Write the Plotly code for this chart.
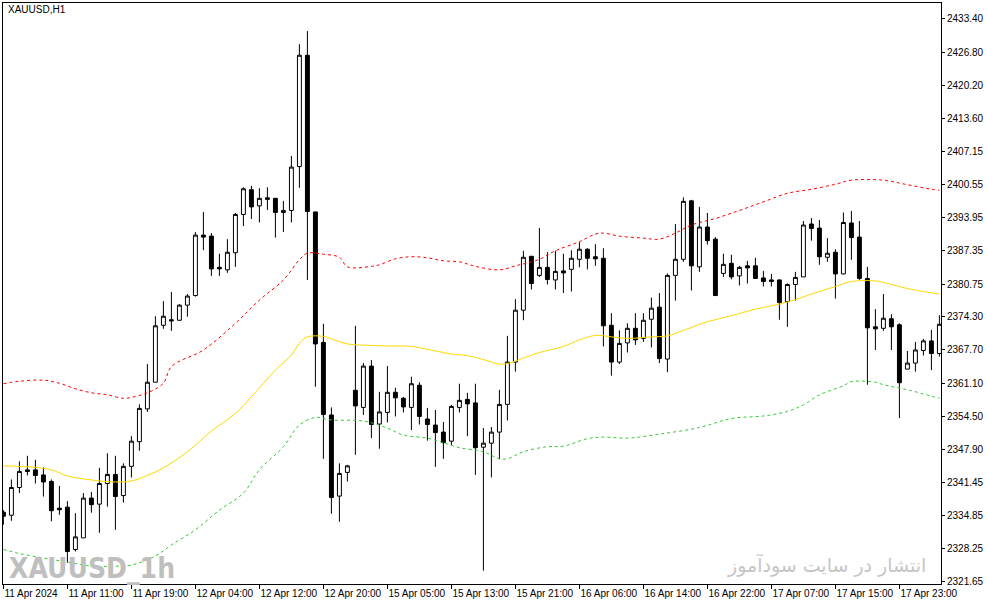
import plotly.graph_objects as go

# XAUUSD H1 candles (bar index 0..117)
opens = [
    2335.5, 2334.9, 2340.4, 2343.9, 2343.9, 2342.9, 2341.6, 2336.3, 2336.5, 2328.1,
    2330.4, 2338.3, 2337.1, 2341.2, 2343.0, 2338.8, 2344.6, 2349.5, 2356.0, 2361.3,
    2372.6, 2373.7, 2373.6, 2376.6, 2378.5, 2390.5, 2390.3, 2384.1, 2383.6, 2387.0,
    2394.6, 2399.5, 2396.3, 2397.9, 2397.8, 2395.0, 2395.4, 2404.1, 2426.2, 2395.1,
    2369.2, 2354.8, 2338.7, 2343.4, 2359.7, 2356.3, 2364.5, 2353.0, 2355.3, 2359.3,
    2358.1, 2356.3, 2360.7, 2354.0, 2352.8, 2351.4, 2349.6, 2356.3, 2357.9, 2357.2,
    2348.4, 2349.2, 2351.4, 2356.9, 2365.3, 2375.6, 2386.3, 2382.5, 2384.1, 2381.6,
    2383.4, 2383.7, 2385.7, 2387.7, 2386.2, 2385.9, 2372.6, 2365.3, 2369.1, 2372.0,
    2370.0, 2373.8, 2376.2, 2365.9, 2382.5, 2385.7, 2397.3, 2384.2, 2392.1, 2389.7,
    2382.9, 2384.9, 2382.4, 2384.4, 2384.4, 2382.0, 2381.6, 2381.6, 2377.3, 2380.7,
    2382.2, 2392.7, 2391.9, 2386.1, 2387.1, 2382.8, 2392.9, 2390.1, 2381.9, 2372.3,
    2372.0, 2373.9, 2372.7, 2363.9, 2365.1, 2367.6, 2369.5, 2367.0,
]
highs = [
    2335.9, 2342.0, 2345.6, 2346.7, 2345.9, 2344.4, 2342.0, 2340.7, 2337.7, 2335.3,
    2339.3, 2339.5, 2344.3, 2347.2, 2346.7, 2345.2, 2350.6, 2356.9, 2364.9, 2374.4,
    2377.4, 2379.2, 2376.8, 2378.8, 2391.1, 2395.1, 2390.9, 2386.8, 2389.7, 2394.9,
    2400.0, 2400.3, 2399.8, 2400.0, 2397.8, 2397.3, 2406.2, 2428.4, 2431.0, 2395.1,
    2372.9, 2356.3, 2345.2, 2344.9, 2372.5, 2365.1, 2365.7, 2359.4, 2364.5, 2360.2,
    2358.4, 2362.4, 2361.3, 2356.2, 2355.8, 2353.4, 2356.8, 2361.0, 2359.2, 2361.0,
    2352.2, 2352.4, 2359.8, 2370.5, 2377.8, 2387.4, 2386.3, 2391.9, 2387.1, 2387.4,
    2386.8, 2387.5, 2389.1, 2387.9, 2388.7, 2387.9, 2375.0, 2371.6, 2373.0, 2375.0,
    2375.0, 2378.1, 2379.0, 2382.9, 2392.7, 2398.0, 2397.5, 2396.1, 2394.9, 2390.1,
    2386.8, 2386.6, 2384.4, 2385.4, 2386.0, 2383.4, 2382.8, 2381.7, 2380.9, 2383.2,
    2393.3, 2393.9, 2393.5, 2389.9, 2387.7, 2395.0, 2395.3, 2393.3, 2384.2, 2375.8,
    2378.8, 2374.8, 2373.0, 2367.5, 2369.3, 2369.9, 2371.7, 2374.6,
]
lows = [
    2333.0, 2333.8, 2339.3, 2342.8, 2341.2, 2338.6, 2333.7, 2335.0, 2325.5, 2327.7,
    2330.4, 2335.4, 2331.4, 2336.6, 2332.0, 2337.4, 2342.4, 2347.7, 2355.4, 2361.3,
    2371.9, 2371.5, 2373.5, 2374.3, 2378.3, 2387.5, 2382.4, 2382.4, 2383.0, 2384.2,
    2392.3, 2393.7, 2393.0, 2395.5, 2390.0, 2391.1, 2393.0, 2399.9, 2381.6, 2360.4,
    2346.1, 2335.2, 2333.6, 2341.6, 2346.9, 2354.8, 2350.2, 2348.1, 2353.3, 2354.5,
    2355.3, 2351.8, 2352.9, 2349.7, 2344.5, 2346.1, 2348.8, 2355.3, 2350.6, 2342.9,
    2323.9, 2342.4, 2346.0, 2353.7, 2363.4, 2373.6, 2379.7, 2382.2, 2380.7, 2379.7,
    2379.0, 2379.3, 2384.1, 2383.7, 2384.4, 2368.4, 2362.6, 2364.9, 2367.2, 2368.7,
    2369.3, 2368.2, 2365.1, 2363.3, 2377.5, 2385.2, 2379.5, 2383.2, 2388.6, 2378.5,
    2382.2, 2381.7, 2380.5, 2380.9, 2381.9, 2380.3, 2380.3, 2373.7, 2372.3, 2377.5,
    2382.2, 2389.4, 2384.6, 2385.2, 2377.9, 2382.7, 2385.6, 2381.6, 2360.8, 2367.7,
    2371.5, 2367.7, 2354.2, 2363.9, 2363.4, 2366.6, 2363.7, 2366.4,
]
closes = [
    2334.7, 2340.4, 2343.6, 2343.6, 2342.8, 2341.5, 2335.8, 2336.0, 2327.7, 2330.6,
    2338.3, 2337.0, 2341.2, 2343.0, 2338.6, 2344.6, 2349.6, 2356.1, 2361.3, 2372.5,
    2374.4, 2373.5, 2376.6, 2378.4, 2390.5, 2390.1, 2383.8, 2383.8, 2387.1, 2394.6,
    2399.7, 2396.1, 2397.8, 2397.6, 2395.0, 2395.4, 2404.0, 2426.2, 2395.2, 2368.9,
    2354.9, 2338.4, 2343.2, 2344.7, 2356.6, 2364.5, 2352.9, 2355.4, 2359.3, 2358.2,
    2356.4, 2361.0, 2354.5, 2352.9, 2351.3, 2349.3, 2356.5, 2357.7, 2357.0, 2348.3,
    2349.2, 2351.4, 2356.9, 2365.3, 2375.6, 2386.1, 2380.9, 2384.1, 2381.7, 2383.3,
    2383.0, 2385.9, 2387.7, 2385.9, 2385.8, 2372.5, 2365.3, 2369.0, 2372.0, 2369.7,
    2373.6, 2376.0, 2366.0, 2382.5, 2385.7, 2397.2, 2384.4, 2392.1, 2389.4, 2378.5,
    2384.7, 2382.2, 2384.1, 2384.0, 2381.9, 2381.3, 2381.3, 2377.1, 2380.7, 2382.1,
    2392.5, 2391.8, 2386.2, 2386.9, 2382.8, 2393.0, 2390.0, 2381.9, 2372.1, 2371.9,
    2374.0, 2372.3, 2361.2, 2365.1, 2367.7, 2369.5, 2367.0, 2372.8,
]
bars = list(range(len(closes)))

# Bollinger bands, sampled by eye at some bars
upper_bars = [0, 2, 5, 7, 9, 11, 13, 15, 16, 18, 20, 21, 25, 29, 32, 35, 37, 38, 40, 42,
              43, 46, 47, 49, 51, 53, 55, 57, 59, 62, 64, 67, 69, 72, 74, 75, 77, 80,
              82, 84, 86, 89, 92, 95, 98, 101, 104, 106, 110, 113, 116, 117]
upper_vals = [2361.0, 2361.5, 2361.7, 2361.1, 2360.0, 2359.2, 2358.8, 2358.1, 2358.3, 2359.2,
              2361.1, 2364.4, 2367.7, 2373.0, 2377.6, 2381.6, 2385.6, 2386.9, 2386.7, 2386.1,
              2384.2, 2384.3, 2384.6, 2385.8, 2386.2, 2386.0, 2385.4, 2385.2, 2384.3, 2383.6,
              2384.4, 2385.7, 2387.4, 2389.2, 2390.7, 2390.9, 2390.3, 2389.9, 2389.7, 2390.9,
              2392.5, 2393.8, 2395.4, 2397.1, 2398.8, 2399.6, 2400.6, 2401.4, 2401.4, 2400.5,
              2399.6, 2399.4]

mid_bars = [0, 4, 6, 8, 11, 14, 16, 18, 20, 23, 26, 29, 31, 34, 36, 37, 38, 40, 41, 43,
            46, 48, 51, 54, 56, 58, 60, 62, 63, 65, 67, 70, 72, 74, 76, 78, 81, 83, 85,
            88, 91, 94, 97, 99, 101, 104, 106, 109, 110, 113, 115, 117]
mid_vals = [2344.7, 2344.4, 2343.9, 2342.7, 2341.9, 2341.5, 2341.7, 2342.8, 2344.3, 2347.5,
            2351.6, 2355.1, 2358.4, 2363.7, 2366.7, 2369.0, 2370.3, 2370.4, 2369.9, 2368.9,
            2368.6, 2368.5, 2368.4, 2367.5, 2366.9, 2366.6, 2365.8, 2364.9, 2365.0, 2366.1,
            2367.2, 2368.4, 2369.7, 2370.6, 2370.3, 2370.0, 2370.3, 2370.5, 2371.6, 2373.3,
            2374.5, 2375.8, 2376.8, 2377.7, 2378.8, 2380.3, 2381.3, 2381.4, 2381.1, 2379.9,
            2379.3, 2378.8]

lower_bars = [0, 2, 5, 8, 11, 14, 16, 19, 21, 24, 27, 30, 32, 35, 37, 39, 41, 45, 48, 50,
              53, 55, 57, 60, 62, 63, 65, 68, 70, 73, 75, 78, 82, 87, 91, 95, 98, 100,
              102, 105, 106, 109, 110, 113, 117]
lower_vals = [2328.1, 2327.3, 2326.4, 2325.6, 2324.8, 2324.8, 2325.0, 2326.8, 2329.0, 2332.0,
              2335.9, 2339.3, 2343.9, 2348.5, 2352.8, 2354.3, 2353.8, 2353.6, 2352.2, 2350.8,
              2350.2, 2349.3, 2348.3, 2347.5, 2346.1, 2346.1, 2347.5, 2348.5, 2348.6, 2350.1,
              2350.4, 2350.2, 2351.0, 2352.3, 2354.1, 2354.6, 2355.5, 2356.8, 2358.8, 2360.6,
              2361.4, 2361.3, 2360.8, 2359.8, 2358.1]

time_labels = [
    "11 Apr 2024", "11 Apr 11:00", "11 Apr 19:00", "12 Apr 04:00", "12 Apr 12:00",
    "12 Apr 20:00", "15 Apr 05:00", "15 Apr 13:00", "15 Apr 21:00", "16 Apr 06:00",
    "16 Apr 14:00", "16 Apr 22:00", "17 Apr 07:00", "17 Apr 15:00", "17 Apr 23:00",
]
price_ticks = [2433.40, 2426.80, 2420.20, 2413.60, 2407.15, 2400.55, 2393.95, 2387.35, 2380.75,
               2374.30, 2367.70, 2361.10, 2354.50, 2347.90, 2341.45, 2334.85, 2328.25, 2321.65]

fig = go.Figure()

band = dict(mode="lines", hoverinfo="skip", line_shape="spline")
fig.add_trace(go.Scatter(x=upper_bars, y=upper_vals, line=dict(color="#ff0000", width=1, dash="3px,3px"), **band))
fig.add_trace(go.Scatter(x=mid_bars, y=mid_vals, line=dict(color="#ffd700", width=1), **band))
fig.add_trace(go.Scatter(x=lower_bars, y=lower_vals, line=dict(color="#32cd32", width=1, dash="3px,3px"), **band))

fig.add_trace(go.Candlestick(
    x=bars, open=opens, high=highs, low=lows, close=closes,
    increasing=dict(line=dict(color="black", width=1), fillcolor="white"),
    decreasing=dict(line=dict(color="black", width=1), fillcolor="black"),
    whiskerwidth=0,
))

axis_font = dict(family="Liberation Sans", size=10, color="black")
fig.update_layout(
    width=987, height=605,
    margin=dict(l=3, r=46, t=3, b=21, autoexpand=False),
    paper_bgcolor="white", plot_bgcolor="white",
    showlegend=False,
    xaxis=dict(
        range=[-0.05, 117.2],
        tickvals=list(range(0, len(closes), 8)), ticktext=time_labels,
        tickangle=0, automargin=False,
        ticks="outside", ticklen=4, tickcolor="black",
        ticklabelposition="outside right",
        showline=True, linecolor="black", linewidth=1, mirror=True,
        showgrid=False, zeroline=False, tickfont=axis_font,
        rangeslider=dict(visible=False),
    ),
    yaxis=dict(
        side="right", automargin=False,
        range=[2321.25, 2436.57],
        tickvals=price_ticks, ticktext=[f"{p:.2f}" for p in price_ticks],
        ticks="outside", ticklen=3, tickcolor="black",
        showline=True, linecolor="black", linewidth=1, mirror=True,
        showgrid=False, zeroline=False, tickfont=axis_font,
    ),
    annotations=[
        dict(text="XAUUSD,H1", xref="paper", yref="paper", x=0.003, y=0.988,
             xanchor="left", yanchor="middle", showarrow=False, font=axis_font),
        dict(text="XAUUSD_1h", xref="paper", yref="paper", x=0.004, y=-0.006,
             xanchor="left", yanchor="bottom", showarrow=False,
             font=dict(family="DejaVu Sans Condensed, DejaVu Sans", size=28, color="#bfbfbf", weight="bold")),
        dict(text="انتشار در سایت سودآموز", xref="paper", yref="paper", x=0.986, y=0.033,
             xanchor="right", yanchor="middle", showarrow=False,
             font=dict(family="DejaVu Sans", size=19, color="#c6c6c6")),
    ],
)

# drop the browser's default page margin so the chart sits at the top-left corner
fig.write_html("out.html", config={"displayModeBar": False},
               post_script="document.body.style.margin='0';")
